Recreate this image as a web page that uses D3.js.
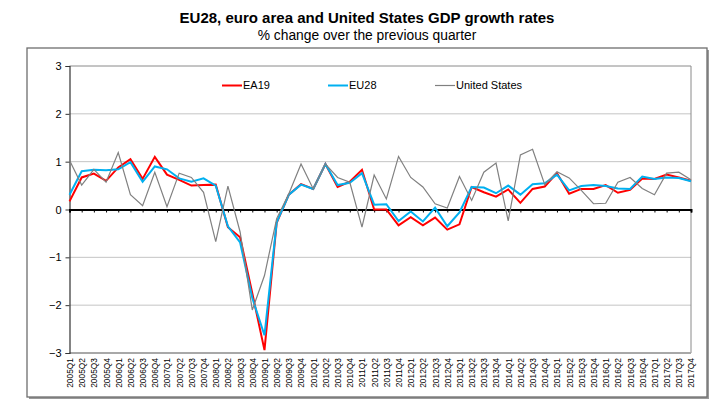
<!DOCTYPE html>
<html>
<head>
<meta charset="utf-8">
<script src="https://cdn.jsdelivr.net/npm/d3@7"></script>
<style>
  html, body { margin: 0; padding: 0; background: #fff; }
  svg { display: block; font-family: "Liberation Sans", Arial, sans-serif; }
</style>
</head>
<body>
<svg id="chart" width="723" height="412"></svg>
<script>
// ---- DATA ----
const years = [2005, 2006, 2007, 2008, 2009, 2010, 2011, 2012, 2013, 2014, 2015, 2016, 2017];
const quarterNames = ["Q1", "Q2", "Q3", "Q4"];
const categories = [];
years.forEach(yr => quarterNames.forEach(q => categories.push(yr + q)));

const ea19 = [0.17, 0.67, 0.75, 0.60, 0.88, 1.05, 0.64, 1.10, 0.73, 0.62, 0.50, 0.51, 0.52,
  -0.37, -0.58, -1.75, -2.94, -0.28, 0.31, 0.53, 0.43, 0.95, 0.47, 0.58, 0.83, 0.00, 0.00,
  -0.33, -0.16, -0.33, -0.17, -0.42, -0.31, 0.47, 0.36, 0.27, 0.42, 0.14, 0.43, 0.48, 0.76,
  0.33, 0.43, 0.43, 0.51, 0.35, 0.41, 0.65, 0.64, 0.73, 0.67, 0.60];

const eu28 = [0.31, 0.80, 0.83, 0.82, 0.84, 0.99, 0.58, 0.90, 0.84, 0.65, 0.58, 0.65, 0.50,
  -0.35, -0.69, -1.85, -2.63, -0.27, 0.31, 0.52, 0.43, 0.95, 0.51, 0.56, 0.76, 0.10, 0.11,
  -0.24, -0.04, -0.25, 0.04, -0.35, -0.06, 0.47, 0.46, 0.34, 0.50, 0.31, 0.53, 0.55, 0.73,
  0.40, 0.49, 0.51, 0.49, 0.44, 0.43, 0.69, 0.64, 0.67, 0.66, 0.59];

const usa = [1.03, 0.51, 0.84, 0.57, 1.19, 0.31, 0.08, 0.78, 0.06, 0.76, 0.67, 0.36, -0.67,
  0.49, -0.47, -2.10, -1.38, -0.19, 0.33, 0.95, 0.43, 0.95, 0.67, 0.57, -0.37, 0.72, 0.22,
  1.11, 0.67, 0.47, 0.12, 0.03, 0.69, 0.19, 0.78, 0.97, -0.24, 1.14, 1.26, 0.52, 0.79,
  0.66, 0.40, 0.12, 0.13, 0.57, 0.67, 0.44, 0.31, 0.76, 0.78, 0.62];

const seriesNames = ["EA19", "EU28", "United States"];
const seriesValues = [ea19, eu28, usa];
const seriesColors = ["#ff0000", "#00b0f0", "#808080"];
const seriesWidths = [2, 2, 1.2];
const yTicks = [-3, -2, -1, 0, 1, 2, 3];

const titleText = "EU28, euro area and United States GDP growth rates";
const subtitleText = "% change over the previous quarter";

// ---- LAYOUT ----
const svg = d3.select("#chart");
const plot = { left: 69.5, right: 691, top: 66, bottom: 353 };

const x = d3.scalePoint().domain(categories).range([plot.left, plot.right]).padding(0);
const y = d3.scaleLinear().domain([-3, 3]).range([plot.bottom, plot.top]);

// outer frame with shadow
svg.append("rect").attr("x", 29).attr("y", 50).attr("width", 680).attr("height", 349)
  .attr("fill", "#9a9a9a");
svg.append("rect").attr("x", 27).attr("y", 48).attr("width", 680).attr("height", 349)
  .attr("fill", "#fff").attr("stroke", "#6e6e6e").attr("stroke-width", 1.3);

// titles
svg.append("text").attr("x", 367).attr("y", 23).attr("text-anchor", "middle")
  .attr("font-size", 15).attr("font-weight", "bold").attr("fill", "#000").text(titleText);
svg.append("text").attr("x", 367).attr("y", 39.5).attr("text-anchor", "middle")
  .attr("font-size", 13.8).attr("fill", "#000").text(subtitleText);

// gridlines
svg.append("g").selectAll("line").data(yTicks.filter(d => d !== 0 && d !== -3 && d !== 3)).join("line")
  .attr("x1", plot.left).attr("x2", plot.right)
  .attr("y1", d => y(d)).attr("y2", d => y(d))
  .attr("stroke", "#c4c4c4").attr("stroke-width", 1);

// plot border top/right and bottom
svg.append("line").attr("x1", plot.left).attr("x2", plot.right).attr("y1", y(3)).attr("y2", y(3))
  .attr("stroke", "#8a8a8a").attr("stroke-width", 1);
svg.append("line").attr("x1", plot.right).attr("x2", plot.right).attr("y1", y(3)).attr("y2", y(-3))
  .attr("stroke", "#8a8a8a").attr("stroke-width", 1);
svg.append("line").attr("x1", plot.left).attr("x2", plot.right).attr("y1", y(-3)).attr("y2", y(-3))
  .attr("stroke", "#a8a8a8").attr("stroke-width", 2);

// y axis
const yAxis = svg.append("g").attr("transform", `translate(${plot.left},0)`)
  .call(d3.axisLeft(y).tickValues(yTicks).tickSize(4).tickPadding(4).tickFormat(d3.format("d")));
yAxis.select(".domain").attr("stroke", "#333").attr("stroke-width", 1.2);
yAxis.selectAll(".tick line").attr("stroke", "#333");
yAxis.selectAll("text").attr("font-size", 11).attr("fill", "#000")
  .attr("font-family", "Liberation Sans, Arial, sans-serif");

// zero axis with ticks
const zeroAxis = svg.append("g").attr("transform", `translate(0,${y(0)})`)
  .call(d3.axisBottom(x).tickSize(3).tickFormat(""));
zeroAxis.select(".domain").attr("stroke", "#000").attr("stroke-width", 2);
zeroAxis.selectAll(".tick line").attr("stroke", "#000").attr("stroke-width", 1);

// category labels at bottom
const xAxis = svg.append("g").attr("transform", `translate(0,${y(-3)})`)
  .call(d3.axisBottom(x).tickSize(0).tickPadding(0));
xAxis.select(".domain").remove();
xAxis.selectAll("text")
  .attr("font-size", 8.4).attr("fill", "#000")
  .attr("font-family", "Liberation Sans, Arial, sans-serif")
  .attr("text-anchor", "end")
  .attr("dy", "0.35em")
  .attr("transform", "translate(0,5) rotate(-90)");

// series lines
const line = d3.line().x((d, i) => x(categories[i])).y(d => y(d));
seriesValues.forEach((vals, k) => {
  svg.append("path").datum(vals)
    .attr("d", line)
    .attr("fill", "none")
    .attr("stroke", seriesColors[k])
    .attr("stroke-width", seriesWidths[k])
    .attr("stroke-linejoin", "miter");
});

// legend
const legendX = [222, 328, 435];
const legendY = 85.5;
seriesNames.forEach((name, k) => {
  svg.append("line").attr("x1", legendX[k]).attr("x2", legendX[k] + 20)
    .attr("y1", legendY).attr("y2", legendY)
    .attr("stroke", seriesColors[k]).attr("stroke-width", seriesWidths[k]);
  svg.append("text").attr("x", legendX[k] + 21).attr("y", legendY).attr("dy", "0.35em")
    .attr("font-size", 11).attr("fill", "#000").text(name);
});
</script>
</body>
</html>
